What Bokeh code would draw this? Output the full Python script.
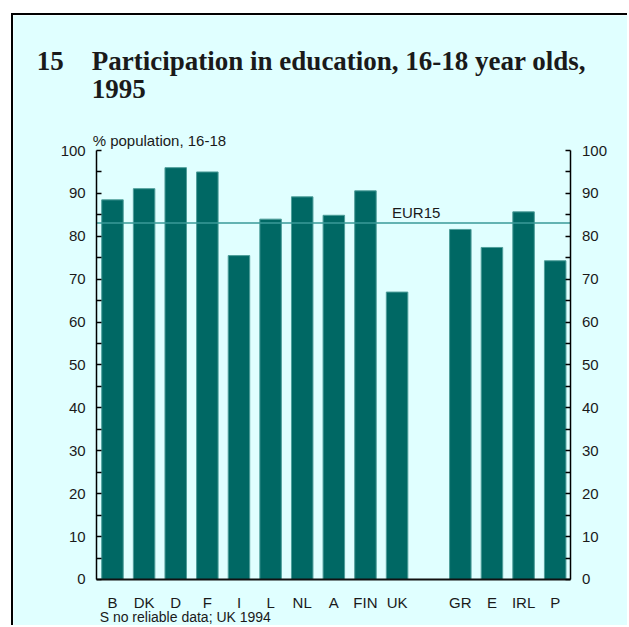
from bokeh.plotting import figure
from bokeh.models import Range1d, LinearAxis, Label, FixedTicker
from bokeh.embed import file_html
from bokeh.resources import INLINE

# ---- data ----
slots = ["B", "DK", "D", "F", "I", "L", "NL", "A", "FIN", "UK", " ", "GR", "E", "IRL", "P"]
countries = ["B", "DK", "D", "F", "I", "L", "NL", "A", "FIN", "UK", "GR", "E", "IRL", "P"]
values = [88.5, 91.1, 96.0, 95.0, 75.5, 84.0, 89.2, 84.9, 90.6, 67.0, 81.6, 77.4, 85.7, 74.3]
eur15 = 83.1
y_major = [0, 10, 20, 30, 40, 50, 60, 70, 80, 90, 100]
y_minor = [5, 15, 25, 35, 45, 55, 65, 75, 85, 95]
title_number = "15"
title_line1 = "Participation in education, 16-18 year olds,"
title_line2 = "1995"
unit_label = "% population, 16-18"
footnote = "S no reliable data; UK 1994"
ref_label = "EUR15"

BG = "#E0FFFF"
BAR = "#006864"
BAR_EDGE = "#4E9E9A"
LINE = "#3A9A98"
TXT = "#1A1A1A"
SANS = "Liberation Sans"
SERIF = "Liberation Serif"

positions = [slots.index(c) for c in countries]
x_lo, x_hi = -0.5, len(slots) - 0.5
y_lo, y_hi = y_major[0], y_major[-1]

W, H = 616, 612
p = figure(width=W, height=H,
           x_range=Range1d(-3.13, 16.35), y_range=Range1d(-11.19, 131.47),
           output_backend="svg", toolbar_location=None,
           min_border_left=0, min_border_right=0, min_border_top=0, min_border_bottom=0)
p.styles = {"margin-left": "11px", "margin-top": "13px",
            "border-left": "2px solid black", "border-top": "2px solid black"}
p.background_fill_color = BG
p.border_fill_color = BG
p.outline_line_color = None
p.xgrid.grid_line_color = None
p.ygrid.grid_line_color = None

p.vbar(x=positions, top=values, width=0.68, fill_color=BAR, line_color=BAR_EDGE, line_width=1)
# EUR15 reference line across the plotting area
p.line(x=[x_lo, x_hi], y=[eur15, eur15], line_color=LINE, line_width=1.5)

# y axes
ya = p.yaxis[0]
ya.ticker = FixedTicker(ticks=y_major, minor_ticks=y_minor)
ya.fixed_location = x_lo
ra = LinearAxis(ticker=FixedTicker(ticks=y_major, minor_ticks=y_minor), fixed_location=x_hi)
p.add_layout(ra, "right")
for ax in [ya, ra]:
    ax.bounds = (y_lo, y_hi)
    ax.axis_line_color = "black"
    ax.axis_line_width = 1.5
    ax.major_tick_line_color = "black"
    ax.major_tick_line_width = 1.5
    ax.minor_tick_line_color = "black"
    ax.minor_tick_line_width = 1.5
    ax.major_tick_in = 5
    ax.major_tick_out = 0
    ax.minor_tick_in = 5
    ax.minor_tick_out = 0
    ax.major_label_text_font = SANS
    ax.major_label_text_font_size = "15px"
    ax.major_label_text_color = TXT
    ax.major_label_standoff = 11

# x axis
xa = p.xaxis[0]
xa.fixed_location = y_lo
xa.bounds = (x_lo, x_hi)
xa.ticker = FixedTicker(ticks=positions)
xa.major_label_overrides = {pos: c for pos, c in zip(positions, countries)}
xa.axis_line_color = "#111111"
xa.axis_line_width = 2
xa.major_tick_line_color = None
xa.minor_tick_line_color = None
xa.major_tick_out = 0
xa.major_tick_in = 0
xa.major_label_text_font = SANS
xa.major_label_text_font_size = "15px"
xa.major_label_text_color = TXT
xa.major_label_standoff = 15

def lab(text, x, y, dx, dy, font, size, bold=False):
    p.add_layout(Label(x=x, y=y, x_offset=dx, y_offset=dy, text=text,
                       text_font=font, text_font_style="bold" if bold else "normal",
                       text_font_size=size, text_color=TXT, text_baseline="alphabetic"))

# title
lab(title_number, x_lo, y_hi, -60.0, 89.8, SERIF, "27px", True)
lab(title_line1, x_lo, y_hi, -4.8, 89.8, SERIF, "27px", True)
lab(title_line2, x_lo, y_hi, -4.8, 61.5, SERIF, "27px", True)
# unit label
lab(unit_label, x_lo, y_hi, -4.0, 10, SANS, "15px")
# EUR15 label (just right of FIN)
lab(ref_label, positions[countries.index("FIN")] + 0.84, eur15, 0, 10.4, SANS, "15px")
# footnote
lab(footnote, x_lo, y_lo, 3.0, -38.0, SANS, "14px")

open("out.html", "w").write(file_html(p, INLINE))
